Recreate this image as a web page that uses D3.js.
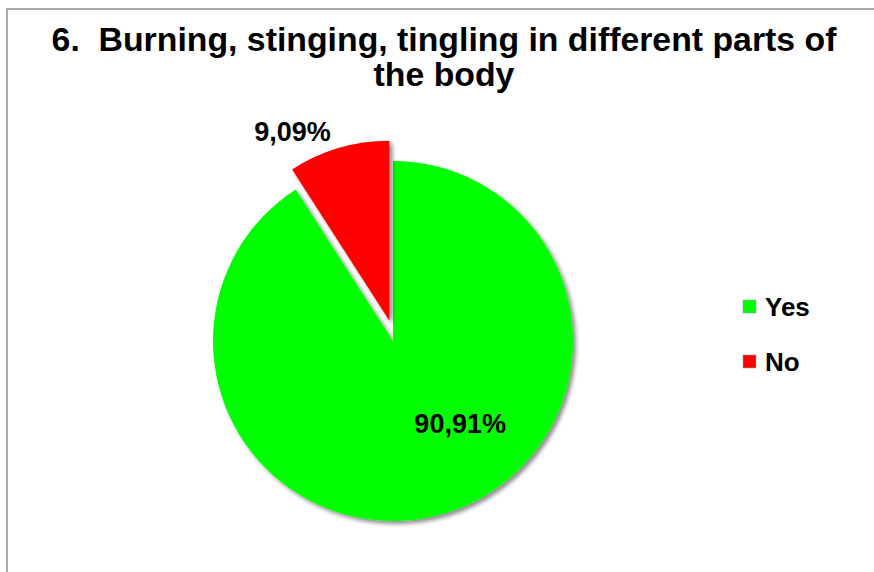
<!DOCTYPE html>
<html><head><meta charset="utf-8">
<script src="https://cdn.jsdelivr.net/npm/d3@7"></script>
<style>body{margin:0;background:#fff}svg{display:block}</style>
</head><body>
<svg id="c" width="874" height="572"></svg>
<script>
const categories = ["Yes", "No"];
const values = [90.91, 9.09];
const labels = ["90,91%", "9,09%"];
const colors = ["#00ff00", "#ff0000"];
const titleLines = ["6.  Burning, stinging, tingling in different parts of", "the body"];

const svg = d3.select("#c");
const W = 874, H = 572;
const cx = 393, cy = 341, r = 180;
const font = "Arial, 'Liberation Sans', sans-serif";

// frame
svg.append("path").attr("d", `M7,${H} L7,9 L${W},9`).attr("fill","none").attr("stroke","#a9a9a9").attr("stroke-width",2);

// title
svg.append("text").attr("x",444).attr("y",51).attr("text-anchor","middle")
  .attr("font-family",font).attr("font-weight","bold").attr("font-size",33.8)
  .style("white-space","pre")
  .selectAll("tspan").data(titleLines).join("tspan")
  .attr("x",444).attr("dy",(d,i)=>i?35:0).text(d=>d);

const defs = svg.append("defs");
const f = defs.append("filter").attr("id","sh").attr("x","-20%").attr("y","-20%").attr("width","140%").attr("height","140%");
f.append("feGaussianBlur").attr("in","SourceAlpha").attr("stdDeviation",2).attr("result","b");
f.append("feOffset").attr("in","b").attr("dx",3).attr("dy",3).attr("result","o");
f.append("feComponentTransfer").attr("in","o").attr("result","o2").append("feFuncA").attr("type","linear").attr("slope",0.45);
const m = f.append("feMerge"); m.append("feMergeNode").attr("in","o2"); m.append("feMergeNode").attr("in","SourceGraphic");

const pie = d3.pie().sort(null).value(d=>d)(values);
const arc = d3.arc().innerRadius(0).outerRadius(r);
const explode = [0, 21];
const g = svg.append("g").attr("transform",`translate(${cx},${cy})`);
g.selectAll("path").data(pie).join("path")
  .attr("d", arc)
  .attr("fill",(d,i)=>colors[i])
  .attr("filter","url(#sh)")
  .attr("transform",(d,i)=>{const a=(d.startAngle+d.endAngle)/2; return `translate(${explode[i]*Math.sin(a)*0.6},${-explode[i]*Math.cos(a)})`;});

// data labels (polar placement: angle clockwise from top in radians, distance)
const labelPos = [[2.463, 107], [-0.478, 212]];
const labelBase = [[0,0],[-3,-21]];
g.selectAll("text.lbl").data(pie).join("text").attr("class","lbl")
  .attr("x",(d,i)=>labelBase[i][0]+labelPos[i][1]*Math.sin(labelPos[i][0]))
  .attr("y",(d,i)=>labelBase[i][1]-labelPos[i][1]*Math.cos(labelPos[i][0])+9)
  .attr("text-anchor","middle").attr("font-family",font).attr("font-weight","bold").attr("font-size",27)
  .attr("fill","#000").text((d,i)=>labels[i]);

// legend
const lg = svg.append("g").attr("transform","translate(743,300)");
const items = lg.selectAll("g").data(categories).join("g").attr("transform",(d,i)=>`translate(0,${i*55})`);
items.append("rect").attr("width",13).attr("height",13).attr("fill",(d,i)=>colors[i]).attr("stroke","#999").attr("stroke-width",0.6);
items.append("text").attr("x",22).attr("y",16).attr("font-family",font).attr("font-weight","bold").attr("font-size",26).text(d=>d);
</script>
</body></html>
